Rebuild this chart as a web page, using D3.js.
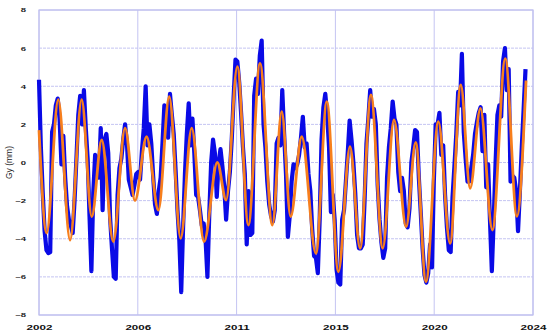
<!DOCTYPE html>
<html>
<head>
<meta charset="utf-8">
<script src="https://cdn.jsdelivr.net/npm/d3@7"></script>
<style>
  html, body { margin: 0; padding: 0; background: #ffffff; }
  svg { display: block; }
</style>
</head>
<body>
<div id="chart"></div>
<script>
// ---------------- DATA ----------------
// Monthly series (blue), starting January 2002
const startYear = 2002;
const blueValues = [
  4.34, 0.8, -1.6, -3.6, -4.6, -4.75, -4.7, 1.6, 2.0, 3.0, 3.35, 2.3,
  -0.1, 1.4, -0.8, -2.3, -3.0, -3.3, -3.7, -2.0, 0.2, 2.5, 3.5, 2.0,
  3.8, 1.8, 0.2, -2.8, -5.7, -1.6, 0.4, 0.0, -0.8, 1.8, -2.5, 1.2,
  1.5, 0.5, -2.9, -4.5, -6.0, -6.1, -1.7, -0.3, 0.2, 1.2, 2.0, 1.0,
  -0.9, -1.3, -1.7, -1.2, -0.6, -0.5, -0.9, 0.6, 1.8, 4.0, 0.9, 2.0,
  1.0, -0.7, -2.2, -2.7, -1.5, -0.8, 1.0, 3.0, 2.5, 1.3, 3.6, 2.5,
  1.5, -0.4, -2.5, -4.1, -6.8, -3.4, -0.6, 1.5, 3.1, 0.9, 2.3, 0.5,
  -1.7, -1.8, -2.5, -3.3, -3.2, -4.0, -6.0, -2.7, 0.0, 1.2, 0.5, -1.8,
  0.0, 0.7, -0.2, -1.3, -3.0, -1.5, -0.5, 1.2, 3.4, 5.4, 5.3, 4.2,
  2.6, 0.8, -0.6, -4.3, -1.5, -3.8, -3.7, 3.5, 4.4, 3.6, 5.6, 6.4,
  2.0, 0.8, -1.0, -2.2, -2.8, -3.1, -2.5, 1.0, 1.3, 0.9, 3.8, 1.5,
  -0.6, -3.9, -2.8, -1.0, -0.1, -0.3, -0.1, 0.4, 1.3, 2.4, 0.8, 1.0,
  -0.6, -1.5, -3.5, -4.9, -5.0, -5.8, -3.0, 1.2, 2.9, 3.6, 2.5, 0.8,
  -2.6, -1.7, -3.0, -5.6, -6.3, -6.4, -3.0, -2.5, -1.0, 0.5, 2.2, 1.2,
  0.0, -1.6, -3.8, -4.5, -4.5, -4.3, -2.0, 1.0, 2.3, 3.8, 2.4, 2.8,
  2.0, -1.2, -3.0, -4.2, -5.0, -4.5, -0.8, 0.8, 1.8, 3.2, 2.3, 2.0,
  -0.5, -1.5, -0.8, -1.5, -3.2, -3.4, -2.4, 0.0, 0.8, 1.7, 1.6, -0.8,
  -2.6, -4.5, -5.9, -6.3, -5.8, -4.3, -5.5, -1.0, 2.0, 2.0, 2.6, 0.4,
  0.9, -1.7, -3.4, -4.6, -4.7, -1.8, -0.2, 1.5, 3.7, 3.0, 5.7, 1.6,
  0.2, -1.0, -1.0, -0.3, 0.4, 1.5, 2.1, 2.6, 2.9, 0.6, 2.5, -1.3,
  -0.1, -3.0, -5.7, -3.0, 0.0, 2.5, 3.0, 2.4, 5.3, 6.0, 3.8, 4.9,
  -1.0, -0.7, -0.8, -1.5, -3.6, -1.5, 0.8, 2.8, 4.9
];

// Smoothed series (orange): month index (since Jan 2002) and value at its turning points
const orangeMonths = [
  0, 4.1, 10.3, 16.6, 22.8, 28.2, 33.5, 39.7, 46, 51.3, 57.5, 63.8, 69.6, 75.7,
  81.6, 88.2, 95.3, 100, 106, 111.9, 118.1, 124.7, 129.7, 134.5, 140.4, 148,
  153.8, 160, 166.2, 171.6, 177.4, 183.7, 189.7, 196.2, 201.3, 206.8, 213.4,
  219.7, 225.4, 230.4, 235.9, 242.3, 249.2, 255.4, 260.3
];
const orangeValues = [
  1.7, -3.7, 3.3, -4.07, 3.3, -2.84, 1.18, -4.15, 1.8, -2.0, 1.35, -2.5, 3.45, -3.98,
  1.8, -4.15, 0.0, -1.97, 5.03, -3.28, 5.2, -3.28, 2.67, -2.84, 1.35, -4.76,
  3.19, -5.73, 0.83, -4.5, 3.54, -4.5, 2.23, -3.37, 1.05, -6.25, 2.14,
  -4.24, 4.07, -1.35, 2.84, -3.54, 5.45, -2.82, 4.3
];

const yTicks = [-8, -6, -4, -2, 0, 2, 4, 6, 8];
const xTickValues = [2002, 2006.4, 2010.8, 2015.2, 2019.6, 2024];
const xTickLabels = ["2002", "2006", "2011", "2015", "2020", "2024"];
const yLabel = "Gy (mm)";

// ---------------- CHART ----------------
const W = 550, H = 336;
const margin = { left: 39, right: 17, top: 10, bottom: 21 };
const svg = d3.select("#chart").append("svg")
  .attr("width", W).attr("height", H);

const x = d3.scaleLinear().domain([2002, 2024]).range([margin.left, W - margin.right]);
const y = d3.scaleLinear().domain([-8, 8]).range([H - margin.bottom, margin.top]);

const gridColor = "#c4c4f2";

// horizontal grid
svg.append("g")
  .selectAll("line").data(yTicks).join("line")
  .attr("x1", x(2002)).attr("x2", x(2024))
  .attr("y1", d => y(d)).attr("y2", d => y(d))
  .attr("stroke", gridColor).attr("stroke-width", 1)
  .attr("stroke-dasharray", d => (d === -8 || d === 8) ? null : "3,1");

// vertical grid
svg.append("g")
  .selectAll("line").data(xTickValues).join("line")
  .attr("x1", d => x(d)).attr("x2", d => x(d))
  .attr("y1", y(8)).attr("y2", y(-8))
  .attr("stroke", gridColor).attr("stroke-width", 1);

// frame
svg.append("rect")
  .attr("x", x(2002)).attr("y", y(8))
  .attr("width", x(2024) - x(2002)).attr("height", y(-8) - y(8))
  .attr("fill", "none").attr("stroke", "#c0c0ee").attr("stroke-width", 1.2);

// lines
const blueData = blueValues.map((v, i) => ({ t: startYear + i / 12, v }));
const orangeData = orangeMonths.map((m, i) => ({ t: startYear + m / 12, v: orangeValues[i] }));

svg.append("path")
  .datum(blueData)
  .attr("fill", "none")
  .attr("stroke", "#0a0ae6")
  .attr("stroke-width", 4.2)
  .attr("stroke-linejoin", "round")
  .attr("d", d3.line().x(d => x(d.t)).y(d => y(d.v)));

svg.append("path")
  .datum(orangeData)
  .attr("fill", "none")
  .attr("stroke", "#f77f1d")
  .attr("stroke-width", 2.8)
  .attr("stroke-linejoin", "round")
  .attr("d", d3.line().curve(d3.curveMonotoneX).x(d => x(d.t)).y(d => y(d.v)));

// axes
const xAxis = d3.axisBottom(x)
  .tickValues(xTickValues)
  .tickFormat((d, i) => xTickLabels[i])
  .tickSize(0).tickPadding(0);
const gx = svg.append("g")
  .attr("transform", `translate(0,${H - margin.bottom})`)
  .call(xAxis);
gx.select(".domain").remove();
gx.selectAll("text")
  .attr("y", 0).attr("dy", 0)
  .attr("transform", "translate(0,14.5) scale(1.45,1)")
  .style("font-family", "'Liberation Sans', Arial, sans-serif")
  .style("font-weight", "bold")
  .style("font-size", "8px")
  .attr("fill", "#111");

const yAxis = d3.axisLeft(y)
  .tickValues(yTicks)
  .tickFormat(d3.format("d"))
  .tickSize(0).tickPadding(0);
const gy = svg.append("g")
  .attr("transform", `translate(${margin.left},0)`)
  .call(yAxis);
gy.select(".domain").remove();
gy.selectAll("text")
  .attr("x", 0).attr("dy", "0.35em")
  .attr("transform", "translate(-13,0) scale(1.7,1)")
  .style("font-family", "'Liberation Sans', Arial, sans-serif")
  .style("font-weight", "bold")
  .style("font-size", "5.6px")
  .attr("fill", "#222");

// y label
svg.append("text")
  .attr("transform", `translate(12,${y(0)}) rotate(-90)`)
  .attr("text-anchor", "middle")
  .style("font-family", "'Liberation Sans', Arial, sans-serif")
  .style("font-size", "8.5px")
  .attr("fill", "#222")
  .text(yLabel);
</script>
</body>
</html>
